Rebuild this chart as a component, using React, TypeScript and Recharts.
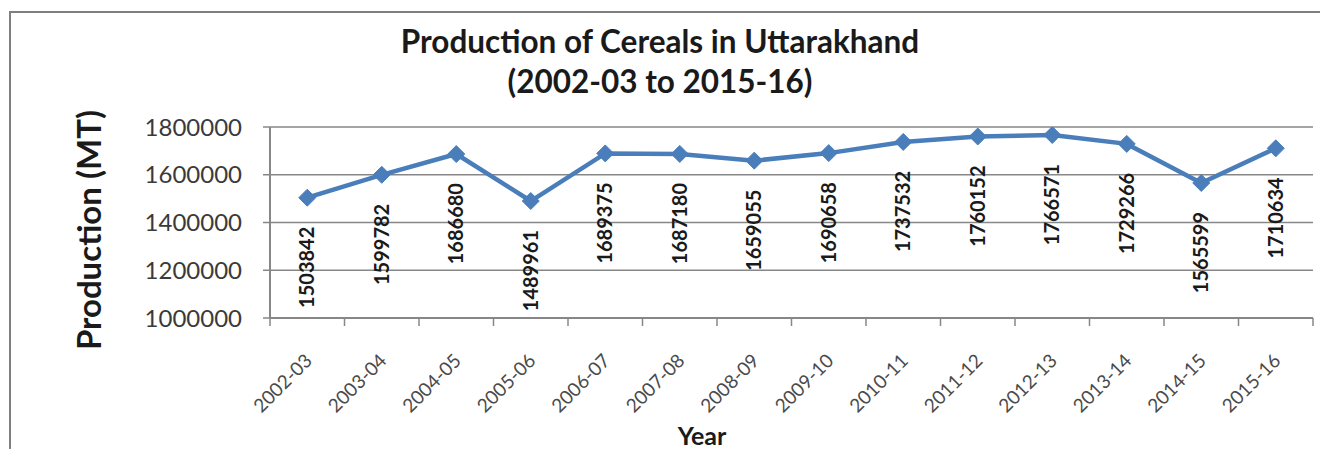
import React from 'react';
import { LineChart, Line, XAxis, YAxis, CartesianGrid, LabelList } from 'recharts';

const years = ['2002-03', '2003-04', '2004-05', '2005-06', '2006-07', '2007-08', '2008-09', '2009-10', '2010-11', '2011-12', '2012-13', '2013-14', '2014-15', '2015-16'];
const production = [1503842, 1599782, 1686680, 1489961, 1689375, 1687180, 1659055, 1690658, 1737532, 1760152, 1766571, 1729266, 1565599, 1710634];
const yTicks = [1000000, 1200000, 1400000, 1600000, 1800000];

const titleLines = ['Production of Cereals in Uttarakhand', '(2002-03 to 2015-16)'];
const yLabel = 'Production (MT)';
const xLabel = 'Year';

const data = years.map((year, i) => ({ year, production: production[i] }));

const FONT = 'Lato, "Open Sans", sans-serif';
const GRID = '#878787';
const BLUE = '#4a7ebb';

const Diamond = (props: any) => {
  const { cx, cy } = props;
  if (cx == null || cy == null) return null;
  const r = 8.5;
  return (
    <polygon
      points={`${cx},${cy - r} ${cx + r},${cy} ${cx},${cy + r} ${cx - r},${cy}`}
      fill={BLUE}
      stroke={BLUE}
      strokeWidth={1}
    />
  );
};

const YearTick = (props: any) => {
  const { x, y, payload, width, visibleTicksCount, index } = props;
  const band = width / visibleTicksCount;
  const ax = x + 6;
  const ay = y + 44;
  const left = x - band / 2;
  const right = x + band / 2;
  return (
    <g>
      <line x1={left} x2={left} y1={y} y2={y + 8} stroke={GRID} strokeWidth={1.5} />
      {index === visibleTicksCount - 1 ? (
        <line x1={right} x2={right} y1={y} y2={y + 8} stroke={GRID} strokeWidth={1.5} />
      ) : null}
      <text
        x={ax}
        y={ay}
        transform={`rotate(-45, ${ax}, ${ay})`}
        textAnchor="end"
        fontSize={19}
        fill="#4a4a4a"
        fontFamily={FONT}
      >
        {payload.value}
      </text>
    </g>
  );
};

const ValueLabel = (props: any) => {
  const { x, y, value } = props;
  if (x == null || y == null) return null;
  const ay = y + 29;
  return (
    <text
      x={x}
      y={ay}
      transform={`rotate(-90, ${x}, ${ay})`}
      textAnchor="end"
      dy="0.36em"
      fontSize={20}
      fontWeight="bold"
      fill="#1a1a1a"
      fontFamily={FONT}
    >
      {value}
    </text>
  );
};

export default function App() {
  return (
    <div style={{ position: 'relative', width: 1320, height: 449, marginBottom: -8, overflow: 'hidden', background: '#fff' }}>
      <div
        style={{
          position: 'absolute',
          left: 1,
          top: 3,
          width: 1400,
          height: 600,
          border: '2.5px solid #7f7f7f',
          boxSizing: 'border-box',
        }}
      />
      <div style={{ position: 'absolute', left: 0, top: 0 }}>
        <LineChart width={1320} height={449} data={data} margin={{ top: 119, right: 15, bottom: 0, left: 0 }}>
          <CartesianGrid vertical={false} stroke={GRID} strokeWidth={1.5} />
          <XAxis
            dataKey="year"
            scale="band"
            interval={0}
            axisLine={{ stroke: GRID, strokeWidth: 2 }}
            tickLine={false}
            tickSize={0}
            tickMargin={0}
            tick={<YearTick />}
            height={139}
          />
          <YAxis
            domain={[1000000, 1800000]}
            ticks={yTicks}
            allowDataOverflow
            interval={0}
            width={262}
            tickSize={7}
            tickMargin={21}
            tickLine={{ stroke: GRID, strokeWidth: 1.5 }}
            axisLine={{ stroke: GRID, strokeWidth: 2 }}
            tick={{ fontSize: 24, fill: '#3a3a3a', fontFamily: FONT }}
          />
          <Line
            dataKey="production"
            stroke={BLUE}
            strokeWidth={4.5}
            dot={<Diamond />}
            activeDot={false}
            isAnimationActive={false}
          >
            <LabelList dataKey="production" content={<ValueLabel />} />
          </Line>
        </LineChart>
      </div>
      <svg
        width={1320}
        height={449}
        style={{ position: 'absolute', left: 0, top: 0, pointerEvents: 'none' }}
      >
        <text x={652} y={45} textAnchor="middle" fontSize={31.5} fontWeight="bold" fill="#1a1a1a" fontFamily={FONT}>
          {titleLines[0]}
        </text>
        <text x={652} y={85} textAnchor="middle" fontSize={31.5} fontWeight="bold" fill="#1a1a1a" fontFamily={FONT}>
          {titleLines[1]}
        </text>
        <text
          x={93}
          y={222}
          transform="rotate(-90, 93, 222)"
          textAnchor="middle"
          fontSize={33}
          fontWeight="bold"
          fill="#1a1a1a"
          fontFamily={FONT}
        >
          {yLabel}
        </text>
        <text x={694} y={437} textAnchor="middle" fontSize={25} fontWeight="bold" fill="#1a1a1a" fontFamily={FONT}>
          {xLabel}
        </text>
      </svg>
    </div>
  );
}
